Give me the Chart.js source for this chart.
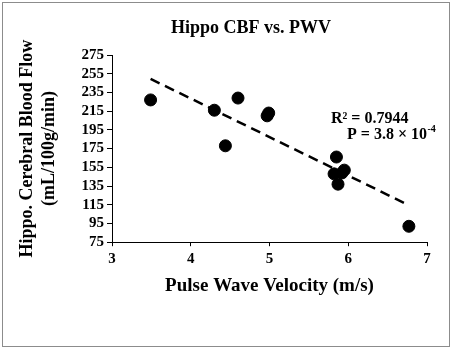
<!DOCTYPE html>
<html><head><meta charset="utf-8">
<script src="https://cdn.jsdelivr.net/npm/chart.js@4.4.1/dist/chart.umd.min.js"></script>
<style>html,body{margin:0;padding:0;background:#fff}#wrap{width:455px;height:350px;position:relative}</style>
</head><body><div id="wrap"><canvas id="c" width="455" height="350"></canvas></div>
<script>
const pwv = [3.49, 4.30, 4.60, 4.44, 4.99, 4.97, 5.85, 5.82, 5.87, 5.95, 5.92, 6.77];
const cbf = [227, 216, 229, 178, 213, 210, 166, 148, 137, 152, 149, 92];
const trendX = [3.49, 6.77];
const trendY = [249.5, 114.5];
const yTicks = [75, 95, 115, 135, 155, 175, 195, 215, 235, 255, 275];
const xTicks = [3, 4, 5, 6, 7];
const titleText = 'Hippo CBF vs. PWV';
const xTitle = 'Pulse Wave Velocity (m/s)';
const yTitle = ['Hippo. Cerebral Blood Flow', '(mL/100g/min)'];
const rText = 'R² = 0.7944';
const pText = 'P = 3.8 × 10';
const pExp = '-4';

const FONT = '"Liberation Serif", "Times New Roman", serif';

const frame = {
  id: 'frame',
  beforeDraw(chart) {
    const c = chart.ctx;
    c.save();
    c.fillStyle = '#fff';
    c.fillRect(0, 0, chart.width, chart.height);
    c.strokeStyle = '#8c8c8c';
    c.lineWidth = 1;
    c.strokeRect(2.5, 2.5, 447, 344);
    c.restore();
  },
  afterDraw(chart) {
    const c = chart.ctx;
    c.save();
    c.fillStyle = '#000';
    c.textBaseline = 'middle';
    c.textAlign = 'center';
    c.font = 'bold 18px ' + FONT;
    c.fillText(titleText, 251, 28);
    c.textAlign = 'left';
    c.textBaseline = 'alphabetic';
    c.font = 'bold 16px ' + FONT;
    c.fillText(rText, 331, 122.5);
    c.fillText(pText, 347, 139);
    const w = c.measureText(pText).width;
    c.font = 'bold 10px ' + FONT;
    c.fillText(pExp, 347 + w + 0.5, 132);
    c.restore();
  }
};

new Chart(document.getElementById('c'), {
  type: 'scatter',
  data: {
    datasets: [
      {
        data: pwv.map((x, i) => ({x, y: cbf[i]})),
        backgroundColor: '#000', borderColor: '#000',
        pointRadius: 6, pointHoverRadius: 6, order: 1
      },
      {
        type: 'line',
        data: trendX.map((x, i) => ({x, y: trendY[i]})),
        borderColor: '#000', borderWidth: 2.5, borderDash: [10, 6],
        pointRadius: 0, fill: false, order: 2
      }
    ]
  },
  options: {
    responsive: false, animation: false, devicePixelRatio: 1,
    layout: {padding: {left: 10, right: 28, top: 55, bottom: 53}},
    plugins: {
      legend: {display: false}, tooltip: {enabled: false}, title: {display: false}
    },
    scales: {
      x: {
        type: 'linear', min: 3, max: 7,
        afterBuildTicks: s => { s.ticks = xTicks.map(v => ({value: v})); },
        ticks: {color: '#000', font: {family: FONT, size: 15, weight: 'bold'}, padding: 4, maxRotation: 0, autoSkip: false},
        grid: {display: true, drawOnChartArea: false, drawTicks: true, tickLength: 4, color: '#000'},
        border: {color: '#000', width: 1},
        title: {display: true, text: xTitle, color: '#000',
          font: {family: FONT, size: 19, weight: 'bold'}, padding: {top: 2, bottom: 0}}
      },
      y: {
        type: 'linear', min: 75, max: 275,
        afterBuildTicks: s => { s.ticks = yTicks.map(v => ({value: v})); },
        ticks: {color: '#000', font: {family: FONT, size: 15, weight: 'bold'}, padding: 3, autoSkip: false},
        grid: {display: true, drawOnChartArea: false, drawTicks: true, tickLength: 5, color: '#000'},
        border: {color: '#000', width: 1},
        title: {display: true, text: yTitle, color: '#000',
          font: {family: FONT, size: 18, weight: 'bold', lineHeight: 1.25}, padding: {top: 6, bottom: 6}},
        afterFit: s => { s.width = 102; }
      }
    }
  },
  plugins: [frame]
});
</script></body></html>
